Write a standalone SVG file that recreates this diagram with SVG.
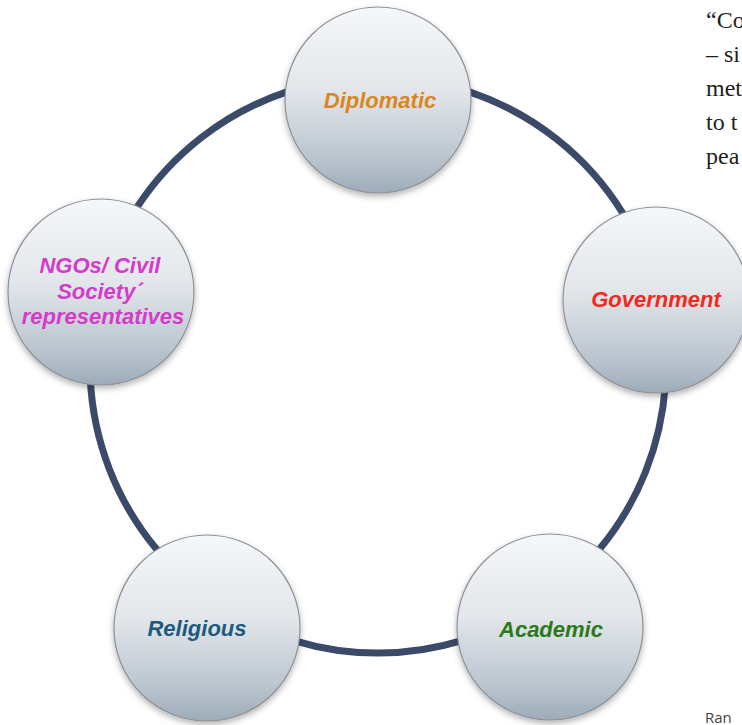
<svg xmlns="http://www.w3.org/2000/svg" width="742" height="725" viewBox="0 0 742 725">
  <defs>
    <linearGradient id="ball" x1="0" y1="0" x2="0" y2="1">
      <stop offset="0" stop-color="#f6f7f9"/>
      <stop offset="0.45" stop-color="#e2e6ea"/>
      <stop offset="0.8" stop-color="#bcc6d0"/>
      <stop offset="1" stop-color="#9dabb9"/>
    </linearGradient>
    <filter id="shadow" x="-20%" y="-20%" width="140%" height="150%">
      <feDropShadow dx="0" dy="3" stdDeviation="3" flood-color="#000" flood-opacity="0.3"/>
    </filter>
  </defs>
  <style>
    .ring { fill: none; stroke: #3c4a6a; stroke-width: 7; }
    .node { fill: url(#ball); stroke: #8b9197; stroke-width: 1.2; filter: url(#shadow); }
    .lbl { font-family: "Liberation Sans", Arial, sans-serif; font-weight: bold; font-style: italic; font-size: 22px; text-anchor: middle; }
    .body { font-family: "Liberation Serif", "Times New Roman", serif; font-size: 24px; fill: #231f20; }
  </style>
  <rect width="742" height="725" fill="#ffffff"/>

  <g id="side-text">
    <text class="body" x="706" y="28">“Co</text>
    <text class="body" x="706" y="62">– si</text>
    <text class="body" x="706" y="96">met</text>
    <text class="body" x="706" y="130">to t</text>
    <text class="body" x="706" y="164">pea</text>
    <text x="705" y="723" font-family="'Open Sans', 'Liberation Sans', sans-serif" font-size="15" fill="#444">Ran</text>
  </g>

  <g id="connectors">
    <path class="ring" d="M378,77 A288,288 0 0 1 658.4,299.2"/>
    <path class="ring" d="M658.4,299.2 A288,288 0 0 1 536.1,605.8"/>
    <path class="ring" d="M536.1,605.8 A288,288 0 0 1 221.1,606.6"/>
    <path class="ring" d="M221.1,606.6 A288,288 0 0 1 99.4,291.9"/>
    <path class="ring" d="M99.4,291.9 A288,288 0 0 1 378,77"/>
  </g>

  <g id="diplomatic">
    <circle class="node" cx="378" cy="100" r="93"/>
    <text class="lbl" x="380" y="108" fill="#d9861c">Diplomatic</text>
  </g>
  <g id="government">
    <circle class="node" cx="656" cy="300" r="93"/>
    <text class="lbl" x="656" y="307" fill="#f5281e">Government</text>
  </g>
  <g id="academic">
    <circle class="node" cx="550" cy="627" r="93"/>
    <text class="lbl" x="551" y="637" fill="#2a7a18">Academic</text>
  </g>
  <g id="religious">
    <circle class="node" cx="207" cy="628" r="93"/>
    <text class="lbl" x="197" y="636" fill="#1c5a7e">Religious</text>
  </g>
  <g id="ngos">
    <circle class="node" cx="101" cy="292" r="93"/>
    <text class="lbl" fill="#d53bcb">
      <tspan x="103" y="273">NGOs/ Civil</tspan>
      <tspan x="103" y="299">Society´</tspan>
      <tspan x="103" y="324">representatives</tspan>
    </text>
  </g>
</svg>
